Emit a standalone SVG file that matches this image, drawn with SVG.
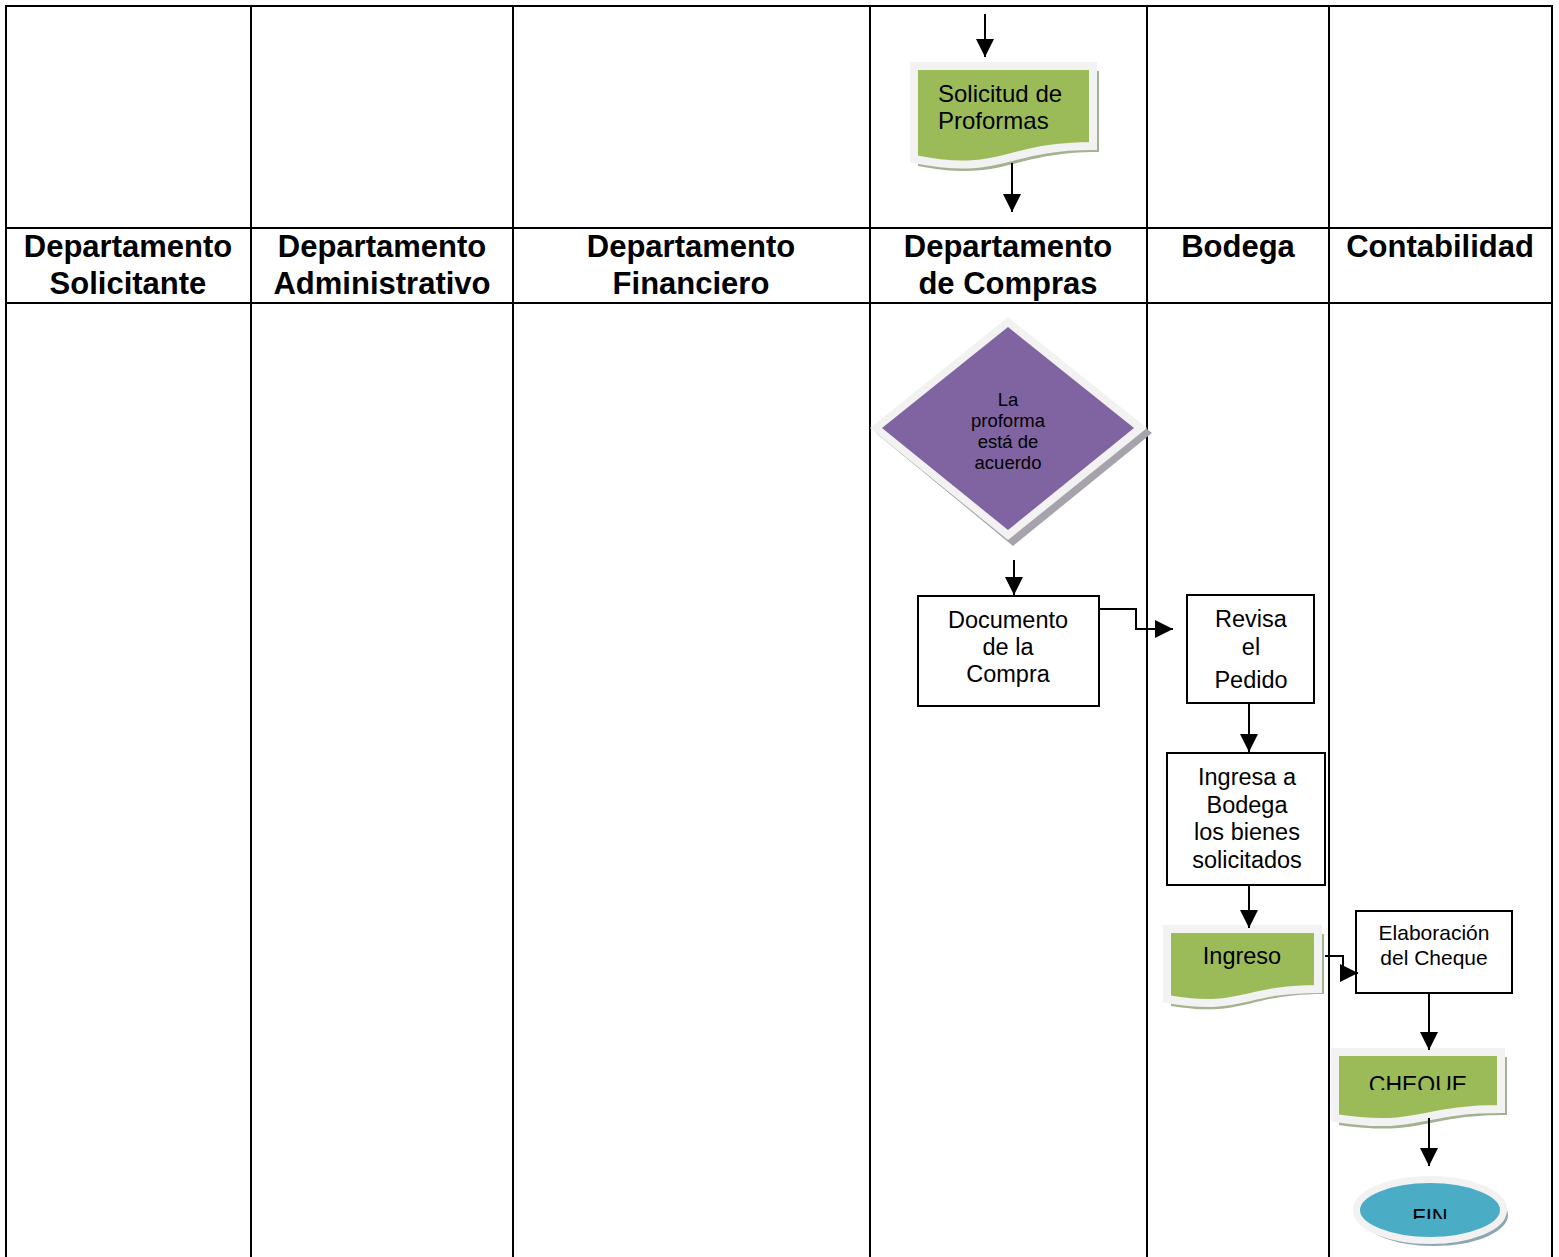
<svg xmlns="http://www.w3.org/2000/svg" width="1559" height="1257" viewBox="0 0 1559 1257">
<style>
  .grid{stroke:#000;stroke-width:2;fill:none}
  .hdr{font-family:"Liberation Sans",Arial,sans-serif;font-weight:bold;font-size:31px;fill:#000;text-anchor:middle}
  .t{font-family:"Liberation Sans",Arial,sans-serif;fill:#000;text-anchor:middle}
  .box{fill:#fff;stroke:#000;stroke-width:2}
  .doc{fill:#9bbb59;stroke:#f2f2f2;stroke-width:8;stroke-linejoin:miter}
  .docsh{fill:#a5b291}
  .con{stroke:#000;stroke-width:2;fill:none}
</style>
<defs>
  <marker id="ah" markerUnits="userSpaceOnUse" markerWidth="18" markerHeight="18" viewBox="0 0 16 16" refX="16" refY="8" orient="auto">
    <path d="M0,0 L16,8 L0,16 Z" fill="#000"/>
  </marker>
  <clipPath id="clipCheque"><rect x="1330" y="1040" width="180" height="50"/></clipPath>
  <clipPath id="clipFin"><rect x="1350" y="1170" width="160" height="49"/></clipPath>
</defs>
<rect x="0" y="0" width="1559" height="1257" fill="#fff"/>

<g id="table">
  <path class="grid" d="M6,1257 V6 H1552 V1257"/>
  <path class="grid" d="M251,6 V1257 M513,6 V1257 M870,6 V1257 M1147,6 V1257 M1329,6 V1257"/>
  <path class="grid" d="M6,228 H1552 M6,303 H1552"/>
</g>

<g id="headers">
  <text class="hdr" x="128" y="257">Departamento</text>
  <text class="hdr" x="128" y="294">Solicitante</text>
  <text class="hdr" x="382" y="257">Departamento</text>
  <text class="hdr" x="382" y="294">Administrativo</text>
  <text class="hdr" x="691" y="257">Departamento</text>
  <text class="hdr" x="691" y="294">Financiero</text>
  <text class="hdr" x="1008" y="257">Departamento</text>
  <text class="hdr" x="1008" y="294">de Compras</text>
  <text class="hdr" x="1238" y="257">Bodega</text>
  <text class="hdr" x="1440" y="257">Contabilidad</text>
</g>

<g id="n_solicitud">
  <path class="docsh" d="M918,71 H1099 V152 C1008,152 1008,183 918,166 Z"/>
  <path class="doc" d="M914,66 H1093 V146 C1003,146 1003,177 914,159 Z"/>
  <text class="t" font-size="24" x="938" y="102" style="text-anchor:start">Solicitud de</text>
  <text class="t" font-size="24" x="938" y="129" style="text-anchor:start">Proformas</text>
</g>

<g id="n_decision">
  <polygon points="1013,322 1152,433 1013,546 876,433" fill="#a7a3ad"/>
  <polygon points="1008,317 1147,428 1008,540 870,428" fill="#f2f2f2"/>
  <polygon points="1008,327 1134,428 1008,530 882,428" fill="#8064a2"/>
  <text class="t" font-size="18.5" x="1008" y="406">La</text>
  <text class="t" font-size="18.5" x="1008" y="427">proforma</text>
  <text class="t" font-size="18.5" x="1008" y="448">está de</text>
  <text class="t" font-size="18.5" x="1008" y="469">acuerdo</text>
</g>

<g id="n_documento">
  <rect class="box" x="918" y="596" width="181" height="110"/>
  <text class="t" font-size="23.5" x="1008" y="628">Documento</text>
  <text class="t" font-size="23.5" x="1008" y="655">de la</text>
  <text class="t" font-size="23.5" x="1008" y="682">Compra</text>
</g>

<g id="n_revisa">
  <rect class="box" x="1187" y="595" width="127" height="108"/>
  <text class="t" font-size="23.5" x="1251" y="627">Revisa</text>
  <text class="t" font-size="23.5" x="1251" y="655">el</text>
  <text class="t" font-size="23.5" x="1251" y="688">Pedido</text>
</g>

<g id="n_ingresa">
  <rect class="box" x="1167" y="753" width="158" height="132"/>
  <text class="t" font-size="23.5" x="1247" y="785">Ingresa a</text>
  <text class="t" font-size="23.5" x="1247" y="813">Bodega</text>
  <text class="t" font-size="23.5" x="1247" y="840">los bienes</text>
  <text class="t" font-size="23.5" x="1247" y="868">solicitados</text>
</g>

<g id="n_ingreso">
  <path class="docsh" d="M1171,934 H1324 V994 C1246,994 1246,1018 1171,1006 Z"/>
  <path class="doc" d="M1167,929 H1318 V989 C1242,989 1242,1012 1167,999 Z"/>
  <text class="t" font-size="23.5" x="1242" y="964">Ingreso</text>
</g>

<g id="n_elaboracion">
  <rect class="box" x="1356" y="911" width="156" height="82"/>
  <text class="t" font-size="21" x="1434" y="940">Elaboración</text>
  <text class="t" font-size="21" x="1434" y="965">del Cheque</text>
</g>

<g id="n_cheque">
  <path class="docsh" d="M1339,1057 H1507 V1115 C1423,1115 1423,1137 1339,1125 Z"/>
  <path class="doc" d="M1335,1052 H1501 V1109 C1418,1109 1418,1131 1335,1118 Z"/>
  <text class="t" font-size="23" x="1418" y="1093" clip-path="url(#clipCheque)">CHEQUE</text>
</g>

<g id="n_fin">
  <ellipse cx="1434" cy="1215" rx="74" ry="31" fill="#8fa6b0"/>
  <ellipse cx="1430" cy="1210" rx="73.5" ry="30.5" fill="#4bacc6" stroke="#f2f2f2" stroke-width="7"/>
  <text class="t" font-size="22" x="1430" y="1224" clip-path="url(#clipFin)">FIN</text>
</g>

<g id="connectors">
  <path class="con" d="M985,14 V57" marker-end="url(#ah)"/>
  <path class="con" d="M1012,163 V212" marker-end="url(#ah)"/>
  <path class="con" d="M1014,560 V595" marker-end="url(#ah)"/>
  <path class="con" d="M1099,609 H1136 V629 H1173" marker-end="url(#ah)"/>
  <path class="con" d="M1249,703 V752" marker-end="url(#ah)"/>
  <path class="con" d="M1249,885 V928" marker-end="url(#ah)"/>
  <path class="con" d="M1325,956 H1343 V973 H1358" marker-end="url(#ah)"/>
  <path class="con" d="M1429,993 V1050" marker-end="url(#ah)"/>
  <path class="con" d="M1429,1118 V1166" marker-end="url(#ah)"/>
</g>
</svg>
